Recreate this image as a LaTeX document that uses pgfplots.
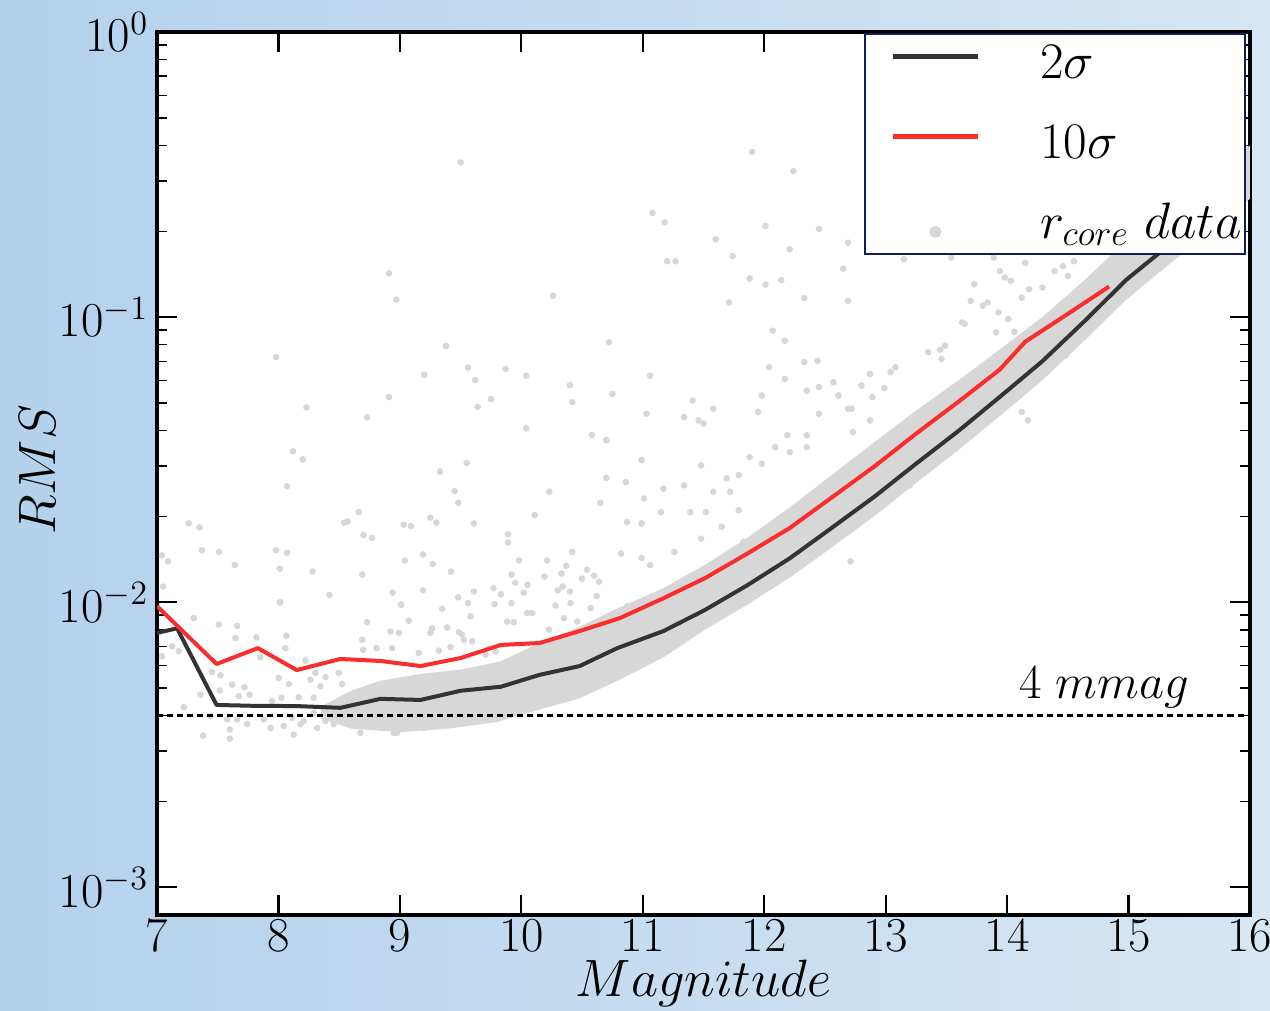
\RequirePackage{fix-cm}
\documentclass[border=0pt]{standalone}
\usepackage{pgfplots}
\pgfplotsset{compat=1.18}
\definecolor{bgL}{RGB}{180,209,236}
\definecolor{bgM}{RGB}{196,218,239}
\definecolor{bgR}{RGB}{215,230,243}
\definecolor{lineblk}{RGB}{51,51,51}
\definecolor{linered}{RGB}{250,45,45}
\definecolor{dotgray}{RGB}{215,215,215}
\definecolor{legnavy}{RGB}{15,30,90}
\begin{document}
\begin{tikzpicture}
\shade[left color=bgL, middle color=bgM, right color=bgR] (-62.8pt,-38.4pt) rectangle (445pt,365.8pt);
\begin{axis}[
  scale only axis, width=437pt, height=353pt,
  xmin=7, xmax=16, ymode=log, ymin=8e-4, ymax=1,
  xtick={7,8,...,16}, ytick={1e-3,1e-2,1e-1,1},
  tick align=inside,
  clip marker paths=true,
  major tick length=8pt, minor tick length=4pt,
  every major tick/.append style={line width=0.9pt, black},
  every minor tick/.append style={line width=0.6pt, black},
  axis line style={line width=1.3pt},
  axis background/.style={fill=white},
  tick label style={font=\fontsize{19.5}{23}\selectfont},
  xticklabel style={inner sep=1pt, yshift=-1pt},
  xlabel={$Magnitude$}, ylabel={$RMS$},
  label style={font=\fontsize{21}{25}\selectfont},
  xlabel style={at={(axis description cs:0.5,-0.078)}, anchor=center, inner sep=0pt},
  ylabel style={at={(axis description cs:-0.109,0.504)}, anchor=center},
  legend style={at={(rel axis cs:0.9965,0.9985)}, anchor=north east,
    draw=legnavy, line width=0.8pt, fill=white,
    font=\fontsize{20.5}{24}\selectfont,
    inner xsep=0.5pt, inner ysep=2pt, row sep=12pt,
    nodes={inner sep=1pt, text height=14.5pt, text depth=3.5pt},
    /tikz/every odd column/.append style={column sep=23pt}},
  legend cell align=left,
]
% dense band of r_core data
\addplot[fill=dotgray, draw=none, forget plot] coordinates {
(8.35,0.0039)(8.6,0.0036)(9.0,0.0035)(9.4,0.0036)(9.8,0.0038)(10.15,0.0042)(10.48,0.0046)(10.79,0.0053)(11.17,0.0064)(11.51,0.0080)(11.86,0.0098)(12.21,0.0122)(12.55,0.0155)(12.91,0.0201)(13.25,0.0262)(13.60,0.0342)(13.94,0.0450)(14.29,0.0600)(14.64,0.083)(14.98,0.115)(15.34,0.154)(15.70,0.205)(16.0,0.26)
(16.0,0.40)(15.70,0.33)(15.34,0.25)(14.98,0.185)(14.64,0.135)(14.29,0.100)(13.94,0.077)(13.60,0.060)(13.25,0.047)(12.91,0.0365)(12.55,0.0278)(12.21,0.0215)(11.86,0.0168)(11.51,0.0135)(11.17,0.0112)(10.79,0.0095)(10.48,0.0082)(10.15,0.0072)(9.83,0.0062)(9.50,0.0058)(9.17,0.0056)(8.84,0.0053)(8.6,0.0049)(8.35,0.0043)
} -- cycle;
% scattered r_core data
\addplot[only marks, mark=*, mark size=1.1pt, color=dotgray, forget plot] coordinates {
(9.50,0.349)(8.91,0.1425)(8.97,0.1153)(10.26,0.1188)(7.98,0.0724)(9.38,0.0792)(9.56,0.0665)(9.87,0.0658)(9.20,0.0628)(10.04,0.0623)(9.62,0.0601)(10.40,0.0577)(8.91,0.0524)(9.75,0.0516)(10.42,0.0503)(9.64,0.0484)(8.23,0.0482)(8.73,0.0445)(10.04,0.0407)(10.58,0.0386)(10.70,0.0370)(8.12,0.0338)(8.20,0.0317)(9.55,0.0308)(9.33,0.0287)(10.70,0.0273)(8.07,0.0255)(9.45,0.0245)(10.23,0.0244)(9.48,0.0223)(10.65,0.0223)(8.66,0.0207)(10.11,0.0202)(9.25,0.0198)(7.26,0.0189)(7.35,0.0183)(8.54,0.0190)(8.57,0.0192)(9.30,0.0190)(9.03,0.0187)(9.09,0.0185)(9.61,0.0189)(9.89,0.0173)(9.89,0.0162)(8.70,0.0172)(8.77,0.0168)(7.04,0.0146)(7.09,0.0139)(7.37,0.0152)(7.51,0.0150)(7.64,0.0135)(7.98,0.0152)(8.07,0.0149)(8.01,0.0131)(8.28,0.0128)(9.19,0.0147)(9.04,0.0140)(9.27,0.0136)(10.42,0.0150)(9.98,0.0140)(10.21,0.0140)(9.42,0.0128)(8.69,0.0125)(9.92,0.0125)(10.37,0.0134)(10.33,0.0126)(10.54,0.0130)(10.19,0.0123)(7.05,0.01135)(8.42,0.0106)(8.94,0.0108)(8.01,0.00997)(9.19,0.0110)(9.61,0.0109)(9.77,0.0112)(9.83,0.01066)(9.95,0.0117)(10.02,0.0108)(10.05,0.0115)(10.30,0.0110)(10.34,0.01135)(10.40,0.0109)(10.50,0.0121)(10.60,0.0124)(10.64,0.0118)(10.62,0.0105)(9.48,0.0104)(9.56,0.00993)(9.01,0.0098)(9.92,0.00993)
(8.016,0.0100)(7.302,0.00879)(7.124,0.0070)(7.041,0.00646)(7.178,0.00673)(7.508,0.00834)(7.659,0.00826)(7.645,0.00748)(7.818,0.00752)(7.851,0.00641)(7.453,0.00569)(7.522,0.00554)(7.516,0.00490)(7.618,0.00514)(7.719,0.00503)(7.673,0.00468)(7.763,0.00474)(7.357,0.00474)(7.220,0.00428)(7.379,0.0034)(7.599,0.00332)(7.599,0.00358)(7.577,0.00388)(7.659,0.00388)(7.741,0.00374)(7.439,0.00398)(7.934,0.00362)(7.879,0.00388)(8.043,0.00368)(8.126,0.00343)(8.181,0.00373)(8.112,0.00393)(7.947,0.0045)(8.024,0.00462)(8.167,0.00464)(8.002,0.00542)(8.085,0.00516)(8.065,0.00763)(8.057,0.0069)(8.222,0.00624)(8.263,0.00535)(8.290,0.00462)(8.345,0.00507)(8.387,0.00546)(8.304,0.00565)(8.290,0.00409)(8.208,0.00383)(8.318,0.00362)(8.387,0.00383)(8.455,0.00373)(8.428,0.00415)(8.496,0.00565)(8.524,0.00516)(8.538,0.00398)(8.593,0.00373)(8.647,0.00393)(8.675,0.00348)(8.689,0.00738)(8.697,0.00681)(8.730,0.00851)(8.807,0.0069)(8.922,0.00789)(8.936,0.0069)(8.991,0.0078)(9.010,0.0098)(9.073,0.00861)(8.949,0.00348)(8.977,0.00348)(8.922,0.00385)(9.087,0.00383)(9.197,0.00362)(9.293,0.00373)(9.155,0.00664)(9.251,0.0078)(9.265,0.0081)(9.348,0.00948)(9.389,0.00815)(9.320,0.00676)(9.416,0.00695)(9.485,0.00785)(9.512,0.00769)(9.526,0.00738)(9.471,0.00383)(9.581,0.00892)(9.595,0.0073)(9.705,0.00655)(9.779,0.00984)(9.883,0.00855)(9.938,0.00851)(10.048,0.00916)(10.089,0.00916)(9.787,0.00673)(10.130,0.00431)(10.226,0.008)(10.281,0.00973)(10.350,0.00879)(10.405,0.00993)(10.460,0.00855)(10.570,0.00953)(10.871,0.00966)(10.693,0.00855)
(11.90,0.38)(12.24,0.325)(11.08,0.232)(11.18,0.215)(11.60,0.1874)(12.01,0.2086)(12.45,0.204)(12.21,0.173)(11.74,0.1637)(11.20,0.157)(11.27,0.157)(12.69,0.1824)(12.65,0.148)(11.88,0.1366)(12.14,0.1347)(12.01,0.130)(12.33,0.1165)(12.69,0.114)(13.15,0.1595)(13.54,0.1617)(13.89,0.1617)(13.98,0.1377)(14.03,0.134)(13.73,0.1304)(13.94,0.145)(14.29,0.127)(14.18,0.1253)(14.39,0.145)(14.50,0.1394)(14.55,0.157)(14.15,0.155)(14.46,0.151)(14.12,0.117)(13.84,0.1125)(13.70,0.114)(13.63,0.0958)(13.93,0.1038)(14.01,0.0984)(13.80,0.1096)(14.06,0.0888)(13.91,0.0883)(13.45,0.0769)(13.49,0.0794)(13.35,0.0753)(13.46,0.0713)(13.65,0.0946)(13.08,0.0667)(13.04,0.0641)(12.87,0.0632)(12.80,0.0575)(12.89,0.0524)(12.99,0.0563)(12.69,0.0477)(12.72,0.0477)(12.57,0.0591)(12.61,0.0531)(12.45,0.0568)(12.45,0.0458)(12.73,0.0395)(12.87,0.0434)(12.35,0.0552)(12.35,0.0385)(12.19,0.0385)(12.21,0.0336)(12.09,0.035)(12.35,0.035)(11.98,0.0531)(11.95,0.0465)(12.17,0.0607)(12.04,0.0667)(12.07,0.0896)(12.17,0.0826)(12.33,0.0695)(12.44,0.0703)(11.71,0.1125)(11.41,0.0510)(11.58,0.0477)(11.34,0.0446)(11.46,0.0434)(11.50,0.0423)(11.48,0.0302)(11.69,0.0272)(11.72,0.0244)(11.79,0.0279)(11.88,0.0323)(11.98,0.0306)(11.58,0.0244)(11.52,0.0207)(11.17,0.0250)(11.15,0.0207)(11.34,0.0257)(11.06,0.0623)(11.03,0.0458)(10.72,0.0816)(10.70,0.0370)(10.75,0.0538)(10.99,0.0315)(10.86,0.0264)(11.01,0.0231)(10.87,0.0191)(10.99,0.0189)(10.82,0.0148)(10.99,0.0143)(11.06,0.0135)(11.26,0.0150)(11.39,0.0207)(11.48,0.0167)(11.65,0.0184)(11.79,0.0210)(11.83,0.0163)(12.71,0.0139)(14.48,0.0733)(14.12,0.0465)(14.17,0.0434)(13.20,0.0257)
};
% 4 mmag reference
\addplot[black, line width=1.1pt, dash pattern=on 2.4pt off 1.6pt, forget plot] coordinates {(7,0.004)(16,0.004)};
% 2 sigma
\addplot[lineblk, line width=1.6pt, line join=round,
  legend image code/.code={\path[draw=none, fill=none] (-11pt,3pt) -- (33.6pt,3pt); \draw[lineblk, line width=2pt] (0pt,3pt) -- (33.6pt,3pt);}] coordinates {
(7.0,0.0078)(7.165,0.0081)(7.49,0.00436)(7.79,0.00433)(8.15,0.00432)(8.51,0.00426)(8.84,0.00458)(9.17,0.00454)(9.50,0.00489)(9.83,0.00505)(10.15,0.00556)(10.48,0.00597)(10.79,0.0069)(11.17,0.00792)(11.51,0.00938)(11.86,0.01146)(12.21,0.01425)(12.55,0.01815)(12.91,0.0235)(13.25,0.0306)(13.60,0.0399)(13.94,0.0525)(14.29,0.0700)(14.64,0.097)(14.98,0.135)(15.34,0.18)(15.70,0.24)};
\addlegendentry{$2\sigma$}
% 10 sigma
\addplot[linered, line width=1.6pt, line join=round,
  legend image code/.code={\path[draw=none, fill=none] (-11pt,3pt) -- (33.6pt,3pt); \draw[linered, line width=2pt] (0pt,3pt) -- (33.6pt,3pt);}] coordinates {
(7.0,0.00968)(7.49,0.00607)(7.83,0.0069)(8.15,0.00578)(8.51,0.00632)(8.84,0.00622)(9.17,0.00597)(9.50,0.00637)(9.83,0.00708)(10.15,0.00719)(10.48,0.00792)(10.81,0.00879)(11.17,0.01032)(11.51,0.01213)(11.86,0.0148)(12.21,0.0182)(12.55,0.0232)(12.91,0.0300)(13.25,0.0390)(13.60,0.0505)(13.94,0.0655)(14.15,0.082)(14.46,0.100)(14.84,0.128)};
\addlegendentry{$10\sigma$}
\addlegendimage{legend image code/.code={\path[draw=none, fill=none] (-11pt,-3pt) -- (33.6pt,-3pt); \fill[dotgray] (16.8pt,-3pt) circle (2pt);}}
\addlegendentry{$r_{core}\ data$}
\node[anchor=base east, inner sep=0pt, font=\fontsize{19.5}{23}\selectfont] at (axis cs:15.5,0.0046) {$4\;mmag$};
\end{axis}
\pgfresetboundingbox
\useasboundingbox (-62.8pt,-38.4pt) rectangle (445pt,365.8pt);
\end{tikzpicture}
\end{document}
